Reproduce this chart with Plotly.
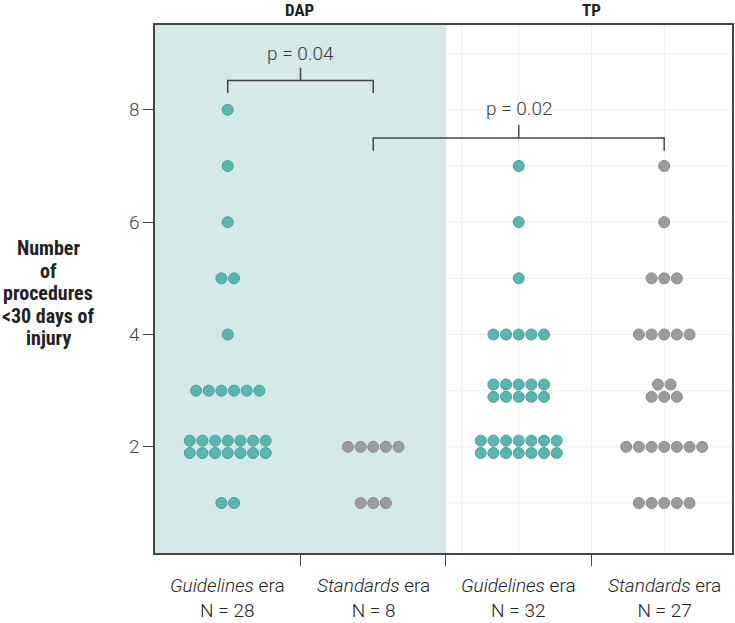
import plotly.graph_objects as go

# ---------------- data ----------------
levels = [1, 2, 3, 4, 5, 6, 7, 8]
dap_guidelines_counts = [2, 14, 6, 1, 2, 1, 1, 1]   # N = 28
dap_standards_counts = [3, 5, 0, 0, 0, 0, 0, 0]     # N = 8
tp_guidelines_counts = [0, 14, 10, 5, 1, 1, 1, 0]   # N = 32
tp_standards_counts = [5, 7, 5, 5, 3, 1, 1, 0]      # N = 27

group_names = ["Guidelines", "Standards", "Guidelines", "Standards"]
group_n = [28, 8, 32, 27]
panel_names = ["DAP", "TP"]
p_values = ["p = 0.04", "p = 0.02"]
y_title_lines = ["Number", "of", "procedures", "&lt;30 days of", "injury"]
y_tick_vals = [2, 4, 6, 8]
# bins drawn as two rows beyond the automatic >7 rule (group index, level)
extra_two_row_bins = [(3, 3)]

# ---------------- style ----------------
NARROW = "Liberation Sans Narrow, Arial Narrow, Roboto Condensed, Roboto, sans-serif"
LIGHT = "Roboto, Liberation Sans, sans-serif"
TEAL, TEAL_LINE = "#5cb4af", "#479f9a"
GREY, GREY_LINE = "#9c9c9c", "#8a8a8a"
SHADE = "#d5e9e9"
DARK = "#454545"
GRID = "#f0f0f0"
DX = 0.087      # horizontal dot spacing (x units)
DY = 0.11       # half vertical gap for two-row bins
XMAX = 3.966
YMIN, YMAX = 0.11, 9.51

all_counts = [dap_guidelines_counts, dap_standards_counts,
              tp_guidelines_counts, tp_standards_counts]
colors = [(TEAL, TEAL_LINE), (GREY, GREY_LINE), (TEAL, TEAL_LINE), (GREY, GREY_LINE)]

fig = go.Figure()

for gi, counts in enumerate(all_counts):
    cx = gi + 0.5
    xs, ys = [], []
    for lvl, n in zip(levels, counts):
        if n == 0:
            continue
        if n > 7 or (gi, lvl) in extra_two_row_bins:
            top = n // 2
            rows = [(top, lvl + DY), (n - top, lvl - DY)]
        else:
            rows = [(n, lvl)]
        for k, yv in rows:
            for j in range(k):
                xs.append(cx + (j - (k - 1) / 2) * DX)
                ys.append(yv)
    fc, lc = colors[gi]
    fig.add_trace(go.Scatter(
        x=xs, y=ys, mode="markers", hoverinfo="skip", showlegend=False,
        marker=dict(size=11, color=fc, line=dict(color=lc, width=1)),
    ))

# shaded DAP panel
fig.add_shape(type="rect", xref="x", yref="paper", x0=0, x1=2, y0=0, y1=1,
              fillcolor=SHADE, line_width=0, layer="below")

# faint grid only in the white TP panel
for gy in range(1, 10):
    fig.add_shape(type="line", xref="x", yref="y", x0=2, x1=XMAX, y0=gy, y1=gy,
                  line=dict(color=GRID, width=1), layer="below")
for gx in [2.11, 2.5, 3, 3.5]:
    fig.add_shape(type="line", xref="x", yref="paper", x0=gx, x1=gx, y0=0, y1=1,
                  line=dict(color=GRID, width=1), layer="below")

# significance brackets
brackets = [
    # x left, x right, line y, end y, top of centre tick, text y
    (0.5, 1.5, 8.52, 8.30, 8.75, 9.01),
    (1.5, 3.5, 7.50, 7.27, 7.73, 8.02),
]
for (xl, xr, yl, ye, yt, ytext), ptxt in zip(brackets, p_values):
    xm = (xl + xr) / 2
    fig.add_shape(type="path", xref="x", yref="y",
                  path=f"M {xl} {ye} L {xl} {yl} L {xr} {yl} L {xr} {ye}",
                  line=dict(color=DARK, width=1.5), layer="above")
    fig.add_shape(type="line", xref="x", yref="y", x0=xm, x1=xm, y0=yl, y1=yt,
                  line=dict(color=DARK, width=1.5), layer="above")
    fig.add_annotation(x=xm, y=ytext, xref="x", yref="y", text=ptxt,
                       showarrow=False,
                       font=dict(family=LIGHT, size=19, color="#3a3a3a", weight=300))

# panel titles
for i, name in enumerate(panel_names):
    fig.add_annotation(x=2 * i + 1, y=1, xref="x", yref="paper", yanchor="bottom",
                       yshift=3, text=f"<b>{name}</b>", showarrow=False,
                       font=dict(family=NARROW, size=17, color="#222"))

# group labels
for gi, (gname, n) in enumerate(zip(group_names, group_n)):
    fig.add_annotation(x=gi + 0.5, y=0, xref="x", yref="paper", yanchor="top",
                       yshift=-19, text=f"<i>{gname}</i> era<br>N = {n}",
                       showarrow=False,
                       font=dict(family=LIGHT, size=19, color="#222", weight=300))

# y-axis title, one annotation per line for tight spacing
nl = len(y_title_lines)
for li, line in enumerate(y_title_lines):
    fig.add_annotation(x=-0.185, y=0.5, xref="paper", yref="paper",
                       xanchor="center", yanchor="middle",
                       yshift=((nl - 1) / 2 - li) * 22.5 - 4,
                       text=f"<b>{line}</b>", showarrow=False,
                       font=dict(family=NARROW, size=20, color="#222"))

fig.update_layout(
    width=735, height=623,
    margin=dict(l=155, r=1, t=25, b=70),
    plot_bgcolor="white", paper_bgcolor="white",
    font=dict(family=LIGHT, color=DARK),
)
fig.update_xaxes(range=[0, XMAX], tickvals=[1, 2, 3], ticktext=["", "", ""],
                 ticks="outside", ticklen=11, tickcolor=DARK, tickwidth=1,
                 showline=True, linecolor=DARK, linewidth=1.5, mirror=True,
                 showgrid=False, zeroline=False)
fig.update_yaxes(range=[YMIN, YMAX], tickvals=y_tick_vals,
                 ticks="outside", ticklen=10, tickcolor=DARK, tickwidth=1,
                 tickfont=dict(family=LIGHT, size=19, color="#444", weight=300),
                 showline=True, linecolor=DARK, linewidth=1.5, mirror=True,
                 showgrid=False, zeroline=False)

fig.write_html("out.html", config={"displayModeBar": False},
               post_script="document.body.style.margin='0';")
